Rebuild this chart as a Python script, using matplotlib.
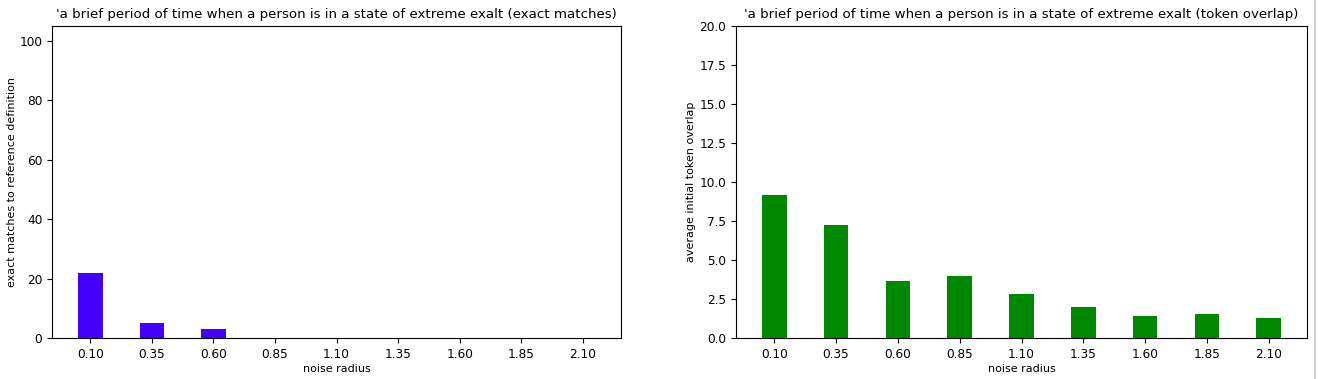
import numpy as np
import matplotlib
matplotlib.use("Agg")
import matplotlib.pyplot as plt
from matplotlib.lines import Line2D

# noise radius values used on both panels
radius = [0.10, 0.35, 0.60, 0.85, 1.10, 1.35, 1.60, 1.85, 2.10]
tick_labels = ["0.10", "0.35", "0.60", "0.85", "1.10", "1.35", "1.60", "1.85", "2.10"]

# exact matches to reference definition
exact = [22, 5, 3, 0, 0, 0, 0, 0, 0]

# average initial token overlap
overlap = [9.17, 7.22, 3.68, 3.98, 2.82, 1.99, 1.42, 1.53, 1.30]

word = "'a brief period of time when a person is in a state of extreme exalt"

plt.rcParams["xtick.labelsize"] = 8.7
plt.rcParams["ytick.labelsize"] = 8.7
plt.rcParams["axes.labelsize"] = 8

fig = plt.figure(figsize=(13.18, 3.79), dpi=100)
ax1 = fig.add_axes([0.0395, 0.108, 0.4317, 0.823])
ax2 = fig.add_axes([0.5584, 0.108, 0.4333, 0.823])

ax1.bar(radius, exact, width=0.1, color="#4400ff")
ax1.set_xticks(radius)
ax1.set_xticklabels(tick_labels)
ax1.set_ylim(0, 105)
ax1.set_xlabel("noise radius", labelpad=2)
ax1.set_ylabel("exact matches to reference definition", labelpad=1.5)
ax1.set_title(word + " (exact matches)", fontsize=9.6)

ax2.bar(radius, overlap, width=0.1, color="#008800")
ax2.set_xticks(radius)
ax2.set_xticklabels(tick_labels)
ax2.set_ylim(0, 20)
ax2.set_xlabel("noise radius", labelpad=2)
ax2.set_ylabel("average initial token overlap", labelpad=2.5)
ax2.set_title(word + " (token overlap)", fontsize=9.6)

# thin border at the right edge of the screenshot
fig.add_artist(Line2D([0.998, 0.998], [0, 1], color="#d0d0d0", lw=1.5))

plt.savefig("out.png", dpi=100)
